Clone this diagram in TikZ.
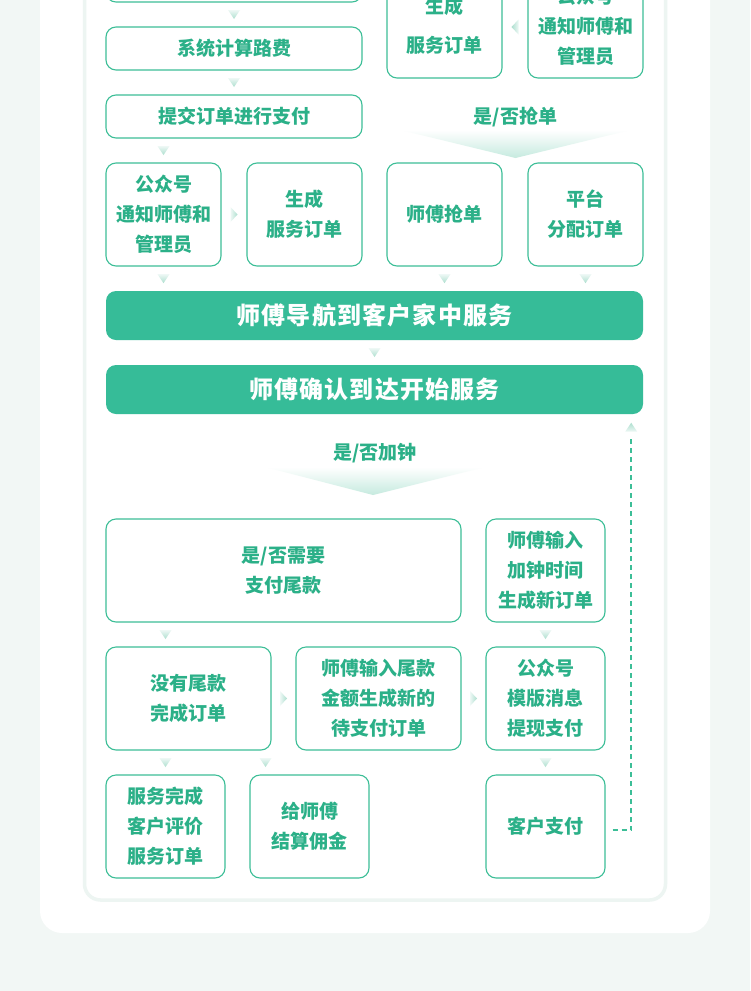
\documentclass[tikz,border=0pt]{standalone}
\usepackage{fontspec}
\newfontfamily\cjk{Noto Sans CJK SC}
\newfontfamily\cjkwide{Noto Sans CJK SC}[LetterSpace=5]
\usetikzlibrary{calc}
\definecolor{bgc}{HTML}{F2F7F5}
\definecolor{gtext}{HTML}{2BB088}
\definecolor{gline}{HTML}{3CBE97}
\definecolor{gfill}{HTML}{36BC98}
\definecolor{arrlight}{HTML}{EEF8F5}
\definecolor{arrdark}{HTML}{ADDFCF}
\definecolor{fandark}{HTML}{C6EADF}
\definecolor{cardline}{HTML}{EDF5F2}
\tikzset{
  box/.style={draw=gline, line width=1.1pt, rounded corners=10pt, fill=white,
    inner sep=0pt, align=center, text=gtext,
    font=\cjk\bfseries\fontsize{19}{30}\selectfont},
  bigbox/.style={fill=gfill, rounded corners=10pt, inner sep=0pt,
    minimum width=537pt, minimum height=49pt, text=white,
    font=\cjkwide\bfseries\fontsize{24}{28}\selectfont},
  qlabel/.style={inner sep=0pt, text=gtext, font=\cjk\bfseries\fontsize{19}{24}\selectfont},
  darr/.pic={\shade[top color=arrlight, bottom color=arrdark] (-6,-4.5) -- (6,-4.5) -- (0,4.5) -- cycle;},
  uarr/.pic={\shade[top color=arrdark, bottom color=arrlight] (-6,4.5) -- (6,4.5) -- (0,-4.5) -- cycle;},
  rarr/.pic={\shade[left color=arrlight, right color=arrdark] (-3.5,-7.5) -- (-3.5,7.5) -- (3.5,0) -- cycle;},
  larr/.pic={\shade[right color=arrlight, left color=arrdark] (3.5,-7.5) -- (3.5,7.5) -- (-3.5,0) -- cycle;},
  dashline/.style={draw=gline, line width=2.2pt, dash pattern=on 5pt off 4pt}
}
\begin{document}
\begin{tikzpicture}[x=1pt,y=-1pt]
\useasboundingbox (0,0) rectangle (750,991);
\clip (0,0) rectangle (750,991);
% backgrounds
\fill[bgc] (0,0) rectangle (750,991);
\fill[white, rounded corners=22pt] (40,-40) rectangle (710,933);
\draw[cardline, line width=3.5pt, fill=white, rounded corners=16pt] (84.5,-40) rectangle (665.5,900);

% top row (cut)
\node[box, minimum width=256pt, minimum height=42pt] (top0) at (234,-19) {};
\node[box, minimum width=115pt, minimum height=104pt, font=\cjk\bfseries\fontsize{19}{39}\selectfont] (gen1) at (444.5,26) {生成\\服务订单};
\node[box, minimum width=115pt, minimum height=104pt] (gzh1) at (585.5,26) {公众号\\通知师傅和\\管理员};
\node[box, minimum width=256pt, minimum height=43pt] (sys) at (234,48.5) {系统计算路费};
\node[box, minimum width=256pt, minimum height=43pt] (pay) at (234,116.5) {提交订单进行支付};
\node[qlabel] (q1) at (515.5,117) {是/否抢单};

% second row
\node[box, minimum width=115pt, minimum height=103pt] (gzh) at (163.5,214.5) {公众号\\通知师傅和\\管理员};
\node[box, minimum width=115pt, minimum height=103pt] (gen2) at (304.5,214.5) {生成\\服务订单};
\node[box, minimum width=115pt, minimum height=103pt] (grab) at (444.5,214.5) {师傅抢单};
\node[box, minimum width=115pt, minimum height=103pt] (assign) at (585.5,214.5) {平台\\分配订单};

\node[bigbox] (nav) at (374.5,315.5) {师傅导航到客户家中服务};
\node[bigbox] (confirm) at (374.5,389.5) {师傅确认到达开始服务};
\node[qlabel] (q2) at (375,453) {是/否加钟};

% lower rows
\node[box, minimum width=355pt, minimum height=103pt] (tail) at (283.5,570.5) {是/否需要\\支付尾款};
\node[box, minimum width=119pt, minimum height=103pt] (addtime) at (545.5,570.5) {师傅输入\\加钟时间\\生成新订单};
\node[box, minimum width=165pt, minimum height=103pt] (notail) at (188.5,698.5) {没有尾款\\完成订单};
\node[box, minimum width=165pt, minimum height=103pt] (pend) at (378.5,698.5) {师傅输入尾款\\金额生成新的\\待支付订单};
\node[box, minimum width=119pt, minimum height=103pt] (tmpl) at (545.5,698.5) {公众号\\模版消息\\提现支付};
\node[box, minimum width=119pt, minimum height=103pt] (svc) at (165.5,826.5) {服务完成\\客户评价\\服务订单};
\node[box, minimum width=119pt, minimum height=103pt] (settle) at (309.5,826.5) {给师傅\\结算佣金};
\node[box, minimum width=119pt, minimum height=103pt] (pay2) at (545.5,826.5) {客户支付};

% fans
\shade[top color=white, bottom color=fandark] ($(q1)+(-115,13)$) -- ($(q1)+(115,13)$) -- ($(q1)+(0,41)$) -- cycle;
\shade[top color=white, bottom color=fandark] ($(q2)+(-110,14)$) -- ($(q2)+(110,14)$) -- ($(q2)+(-2,42)$) -- cycle;

% arrows
\pic at ($(top0.south)!.5!(sys.north)$) {darr};
\pic at ($(sys.south)!.5!(pay.north)$) {darr};
\pic at ($(pay.south -| gzh.north)!.5!(gzh.north)$) {darr};
\pic at ($(gzh.east)!.5!(gen2.west)$) {rarr};
\pic at ($(gzh1.west)!.5!(gen1.east)+(0,1)$) {larr};
\pic at ($(gzh.south)!.5!(gzh.south |- nav.north)$) {darr};
\pic at ($(grab.south)!.5!(grab.south |- nav.north)$) {darr};
\pic at ($(assign.south)!.5!(assign.south |- nav.north)$) {darr};
\pic at ($(nav.south)!.5!(confirm.north)$) {darr};
\pic at ($(tail.south -| svc.north)!.5!(svc.north |- notail.north)$) {darr};
\pic at ($(addtime.south)!.5!(tmpl.north)$) {darr};
\pic at ($(notail.east)!.5!(pend.west)$) {rarr};
\pic at ($(pend.east)!.5!(tmpl.west)$) {rarr};
\pic at ($(notail.south -| svc.north)!.5!(svc.north)$) {darr};
\pic at ($(notail.south east)!.5!(notail.south east |- settle.north)+(-6,0)$) {darr};
\pic at ($(tmpl.south)!.5!(pay2.north)$) {darr};

% dashed return loop
\coordinate (dstart) at ($(pay2.east)+(7,3.5)$);
\coordinate (dx) at ($(confirm.south east)+(-12,0)$);
\coordinate (dcorner) at (dx |- dstart);
\coordinate (dend) at ($(confirm.south east)+(-12,23)$);
\draw[dashline] (dstart) -- (dcorner) -- (dend);
\pic at ($(confirm.south east)+(-12,13)$) {uarr};
\end{tikzpicture}
\end{document}
